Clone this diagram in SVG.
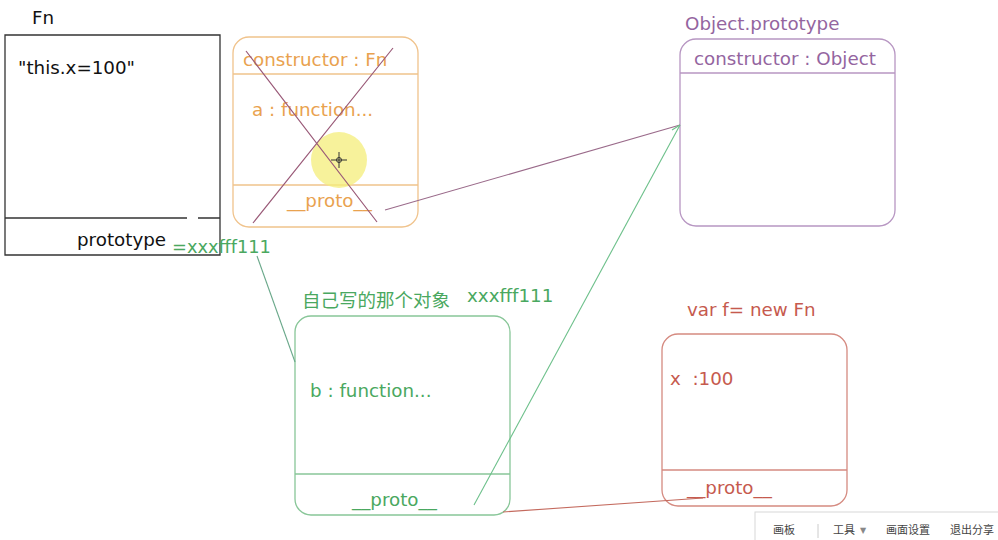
<svg xmlns="http://www.w3.org/2000/svg" width="998" height="540" viewBox="0 0 998 540">
<style>
text{font-family:"DejaVu Sans","Noto Sans CJK SC",sans-serif;font-size:18.3px}
.blk{fill:#111}
.org{fill:#e9a24f}
.pur{fill:#94659f}
.grn{fill:#4aa860}
.red{fill:#c65a4e}
.box{fill:none;stroke-width:1.3}
.so{stroke:#f0c38c}
.sp{stroke:#b796c2}
.sg{stroke:#88c698}
.sr{stroke:#d58a80}
.tb{font-size:11px;fill:#444}
</style>
<rect width="998" height="540" fill="#ffffff"/>

<g id="fn">
<text x="32" y="24" class="blk">Fn</text>
<path d="M5 35H220V255H5Z" fill="none" stroke="#333" stroke-width="1.3"/>
<path d="M5 218H187M198 218H220" stroke="#333" stroke-width="1.3" fill="none"/>
<text x="18" y="74" class="blk">"this.x=100"</text>
<text x="77" y="246" class="blk">prototype</text>
<text x="172" y="253" class="grn" style="font-size:17.8px">=xxxfff111</text>
</g>

<g id="fn-prototype-old">
<rect x="233" y="37" width="185" height="190" rx="16" class="box so"/>
<path d="M233 74H418M233 185H418" class="box so"/>
<text x="243" y="66" class="org">constructor : Fn</text>
<text x="252" y="116" class="org">a : function...</text>
<text x="287" y="207" class="org">__proto__</text>
<circle cx="339" cy="160" r="28" fill="#f4ee7a" fill-opacity="0.75"/>
<path d="M246 51L377 222M393 48L253 223" stroke="#9a5a78" stroke-width="1.2" fill="none"/>
<g stroke="#333" stroke-width="1" fill="none">
<path d="M331 160H347M339 152V168"/>
<circle cx="339" cy="160" r="2.5"/>
</g>
</g>

<g id="object-prototype">
<text x="685" y="30" class="pur">Object.prototype</text>
<rect x="680" y="39" width="215" height="187" rx="16" class="box sp"/>
<path d="M680 73H895" class="box sp"/>
<text x="694" y="65" class="pur">constructor : Object</text>
</g>

<g id="own-object">
<text x="302" y="307" class="grn" style="font-size:18.5px">自己写的那个对象</text>
<text x="467" y="302" class="grn">xxxfff111</text>
<rect x="295" y="316" width="215" height="199" rx="16" class="box sg"/>
<path d="M295 474H510" class="box sg"/>
<text x="310" y="397" class="grn">b : function...</text>
<text x="352" y="506" class="grn">__proto__</text>
</g>

<g id="instance-f">
<text x="687" y="316" class="red">var f= new Fn</text>
<rect x="662" y="334" width="185" height="172" rx="16" class="box sr"/>
<path d="M662 470H847" class="box sr"/>
<text x="670" y="385" class="red" xml:space="preserve">x  :100</text>
<text x="687" y="494" class="red">__proto__</text>
</g>

<g id="connectors" fill="none" stroke-width="1.1">
<path d="M385 210L680 125" stroke="#9a6a8a"/>
<path d="M680 125L474 505" stroke="#6cc08a"/>
<path d="M672 130L680 125" stroke="#6cc08a"/>
<path d="M257 256L295 362" stroke="#6aa88a"/>
<path d="M503 512L703 498" stroke="#c46a5e"/>
</g>

<g id="toolbar">
<rect x="755" y="512" width="250" height="32" fill="#ffffff" stroke="#d8d8d8"/>
<text x="773" y="534" class="tb">画板</text>
<path d="M818 524V538" stroke="#ccc"/>
<text x="833" y="534" class="tb">工具</text>
<text x="860" y="533" class="tb" style="font-size:8px;fill:#888">▼</text>
<text x="886" y="534" class="tb">画面设置</text>
<text x="950" y="534" class="tb">退出分享</text>
</g>
</svg>
